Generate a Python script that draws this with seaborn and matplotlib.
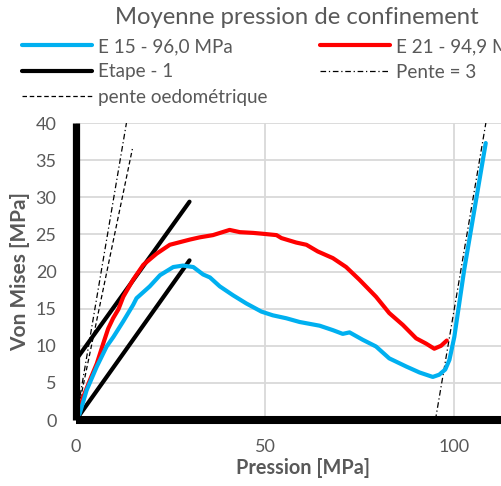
import matplotlib
matplotlib.use('Agg')
from matplotlib import pyplot as plt
from matplotlib.lines import Line2D
import seaborn as sns
import pandas as pd

# E 15 - 96,0 MPa (blue curve)
blue_x = [0, 1.0, 2.8, 5.5, 8.1, 9.9, 12.5, 15.1, 16.0, 19.5, 22.2, 25.7, 28.3, 31.0, 33.6, 35.4,
          38.0, 41.5, 45.0, 49.0, 52.0, 55.6, 59.1, 64.4, 67.9, 70.5, 72.3, 75.8, 79.3, 82.8,
          87.3, 90.8, 94.3, 96.0, 97.6, 98.7, 100.0, 101.3, 102.6, 108.3]
blue_y = [0, 0.9, 4.0, 7.2, 9.9, 11.2, 13.3, 15.5, 16.4, 18.0, 19.5, 20.6, 20.8, 20.6, 19.6, 19.2,
          18.0, 16.8, 15.7, 14.6, 14.1, 13.7, 13.2, 12.7, 12.1, 11.6, 11.8, 10.8, 9.9, 8.3,
          7.2, 6.4, 5.8, 6.1, 6.8, 8.1, 11.2, 15.7, 20.2, 37.3]

# E 21 - 94,9 MPa (red curve)
red_x = [0, 1.9, 3.7, 5.5, 7.2, 8.5, 9.8, 11.2, 12.5, 15.1, 17.8, 21.3, 24.8, 30.1, 32.7, 36.2,
         40.6, 43.3, 46.8, 49.0, 53.0, 54.3, 58.2, 60.9, 63.9, 67.9, 71.4, 74.9, 79.3, 82.8,
         86.4, 89.9, 92.5, 94.7, 96.5, 98.0]
red_y = [0, 3.1, 5.4, 7.6, 10.3, 12.3, 13.7, 14.9, 16.6, 18.9, 20.9, 22.4, 23.6, 24.3, 24.6, 24.9,
         25.6, 25.3, 25.2, 25.1, 24.9, 24.5, 23.9, 23.6, 22.7, 21.8, 20.6, 18.9, 16.6, 14.4,
         12.8, 11.0, 10.3, 9.6, 10.0, 10.7]

# Etape - 1 (two parallel segments)
etape_seg = [1, 1, 2, 2]
etape_x = [0, 30, 0, 30]
etape_y = [8.1, 29.4, 0, 21.5]

# Pente = 3 (two segments)
pente_seg = [1, 1, 2, 2]
pente_x = [0, 13.33, 95.0, 108.33]
pente_y = [0, 40, 0, 40]

# pente oedometrique
oedo_x = [0, 14.9]
oedo_y = [0, 36.5]

labels = ['E 15 - 96,0 MPa', 'E 21 - 94,9 MPa', 'Etape - 1', 'Pente = 3', 'pente oedométrique']

blue = '#00B0F0'
red = '#FF0000'
grey = '#595959'

sns.set_theme(style='white')
plt.rcParams['font.family'] = ['Lato', 'DejaVu Sans']
plt.rcParams['text.color'] = grey

fig = plt.figure(figsize=(5.02, 4.86), dpi=100)
ax = fig.add_axes([76 / 502, 66 / 486, 454 / 502, 297 / 486])

dash_dot = (0, (4.5, 2.2, 1.0, 2.2))
dashed = (0, (3.6, 2.2))

sns.lineplot(data=pd.DataFrame({'x': pente_x, 'y': pente_y, 's': pente_seg}), x='x', y='y',
             units='s', estimator=None, sort=False, color='black', lw=0.9, ax=ax,
             linestyle=dash_dot)
sns.lineplot(data=pd.DataFrame({'x': oedo_x, 'y': oedo_y}), x='x', y='y', sort=False,
             estimator=None, color='black', lw=0.9, ax=ax, linestyle=dashed)
sns.lineplot(data=pd.DataFrame({'x': etape_x, 'y': etape_y, 's': etape_seg}), x='x', y='y',
             units='s', estimator=None, sort=False, color='black', lw=3.0, ax=ax)
sns.lineplot(data=pd.DataFrame({'x': red_x, 'y': red_y}), x='x', y='y', sort=False,
             estimator=None, color=red, lw=3.0, ax=ax)
sns.lineplot(data=pd.DataFrame({'x': blue_x, 'y': blue_y}), x='x', y='y', sort=False,
             estimator=None, color=blue, lw=3.0, ax=ax)

# thick axis bars
ax.plot([0, 0], [0, 40], color='black', lw=5.2, solid_capstyle='butt', clip_on=False, zorder=5)
ax.plot([0, 120], [0, 0], color='black', lw=5.8, solid_capstyle='butt', clip_on=False, zorder=5)

ax.set_xticks([0, 50, 100])
ax.set_yticks(range(0, 41, 5))
ax.set_xlim(0, 120)
ax.set_ylim(0, 40)
ax.grid(True, color='#D9D9D9', lw=1.3)
ax.set_axisbelow(True)
for s in ax.spines.values():
    s.set_visible(False)
ax.tick_params(axis='both', length=0, labelsize=13, labelcolor=grey)
ax.tick_params(axis='y', pad=14)
ax.tick_params(axis='x', pad=14)
ax.set_xlabel('Pression [MPa]', fontsize=14.3, fontweight='bold', color=grey, labelpad=2)
ax.set_ylabel('Von Mises [MPa]', fontsize=15, fontweight='bold', color=grey, labelpad=4)

fig.text(297 / 502, 1 - 18 / 486, 'Moyenne pression de confinement', fontsize=17.2,
         color=grey, ha='center', va='center')

handles = [
    Line2D([], [], color=blue, lw=3.0),
    Line2D([], [], color='black', lw=3.0),
    Line2D([], [], color='black', lw=0.9, linestyle=dashed),
    Line2D([], [], color=red, lw=3.0),
    Line2D([], [], color='black', lw=0.9, linestyle=dash_dot),
]
leg_labels = [labels[0], labels[2], labels[4], labels[1], labels[3]]
fig.legend(handles, leg_labels, loc='upper left', bbox_to_anchor=(22 / 502, 1 - 38 / 486),
           ncol=2, frameon=False, fontsize=13.6, handlelength=3.7, handletextpad=0.32,
           columnspacing=2.8, labelspacing=0.45, borderpad=0, borderaxespad=0,
           labelcolor=grey)

fig.savefig('out.png', dpi=100)
